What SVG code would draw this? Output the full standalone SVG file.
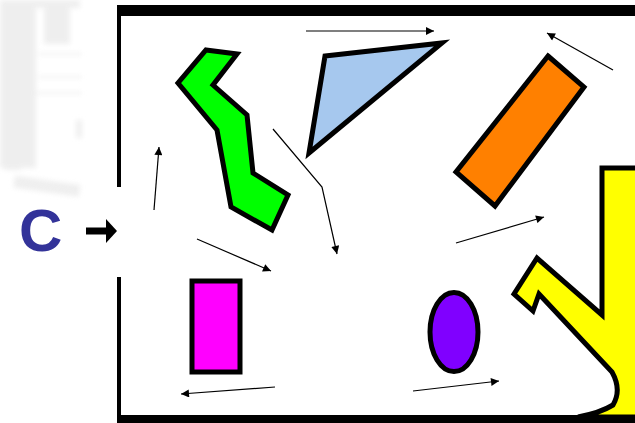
<svg xmlns="http://www.w3.org/2000/svg" width="635" height="423" viewBox="0 0 635 423">
<style>
.shape{stroke:#000;stroke-width:5;stroke-linejoin:miter}
.arr{stroke:#000;stroke-width:1.2;fill:none}
.frame{fill:#000}
.faint{fill:#ececec}
</style>
<defs>
<marker id="ah" viewBox="0 0 10 10" refX="10" refY="5" markerWidth="9" markerHeight="8" markerUnits="userSpaceOnUse" orient="auto">
<path d="M0,0 L10,5 L0,10 z" fill="#000"/>
</marker>
<filter id="blur" x="-20%" y="-20%" width="140%" height="140%"><feGaussianBlur stdDeviation="2.5"/></filter>
</defs>
<rect width="635" height="423" fill="#fff"/>
<g id="faint-photo" filter="url(#blur)" opacity="0.85">
<rect class="faint" x="0" y="0" width="36" height="168"/>
<rect class="faint" x="44" y="0" width="26" height="44"/>
<rect class="faint" x="30" y="0" width="50" height="8"/>
<rect class="faint" x="38" y="53" width="44" height="2"/>
<rect class="faint" x="38" y="76" width="44" height="2"/>
<rect class="faint" x="36" y="92" width="46" height="2"/>
<rect class="faint" x="5" y="100" width="16" height="70"/>
<rect class="faint" x="14" y="180" width="66" height="12" transform="rotate(8 45 185)"/>
<rect class="faint" x="76" y="120" width="6" height="18"/>
</g>
<g id="frame">
<rect class="frame" x="117" y="5" width="518" height="11"/>
<rect class="frame" x="117" y="5" width="4" height="182"/>
<rect class="frame" x="117" y="277" width="4" height="146"/>
<rect class="frame" x="117" y="415" width="518" height="8"/>
</g>
<g id="label-C">
<text x="19" y="251" font-family="Liberation Sans, Arial, sans-serif" font-weight="bold" font-size="60" fill="#333399">C</text>
<path d="M86,231 H108" stroke="#000" stroke-width="7"/>
<path d="M106,219 L117,231 L106,243 z" fill="#000"/>
</g>
<g id="green-shape">
<polygon class="shape" fill="#00ff00" points="206,50 237,54 213,85 247,115 253,173 288,195 272,230 231,207 217,130 178,83"/>
</g>
<g id="blue-triangle">
<polygon class="shape" fill="#a6c8ee" points="325,56 442,43 309,153"/>
</g>
<g id="orange-rect">
<polygon class="shape" fill="#ff8000" points="548,56 584,87 495,206 456,172"/>
</g>
<g id="yellow-shape">
<path class="shape" fill="#ffff00" d="M640,168 H602 V315 L537,258 L514,294 L533,311 L539,294 L612,372 Q622,390 613,405 Q600,413 578,417 L640,417 Z"/>
</g>
<g id="magenta-rect">
<rect class="shape" fill="#ff00ff" stroke-width="4" x="192" y="281" width="48" height="91"/>
</g>
<g id="purple-ellipse">
<ellipse class="shape" fill="#8000ff" stroke-width="4" cx="454" cy="332" rx="24" ry="39.5"/>
</g>
<g id="connectors">
<path class="arr" marker-end="url(#ah)" d="M306,31 H434"/>
<path class="arr" marker-end="url(#ah)" d="M613,70 L547,33"/>
<path class="arr" marker-end="url(#ah)" d="M154,210 L159,147"/>
<path class="arr" marker-end="url(#ah)" d="M197,239 L271,271"/>
<path class="arr" marker-end="url(#ah)" d="M273,129 L322,187 L337,254"/>
<path class="arr" marker-end="url(#ah)" d="M456,243 L544,217"/>
<path class="arr" marker-end="url(#ah)" d="M413,391 L499,381"/>
<path class="arr" marker-end="url(#ah)" d="M275,387 L181,394"/>
</g>
</svg>
